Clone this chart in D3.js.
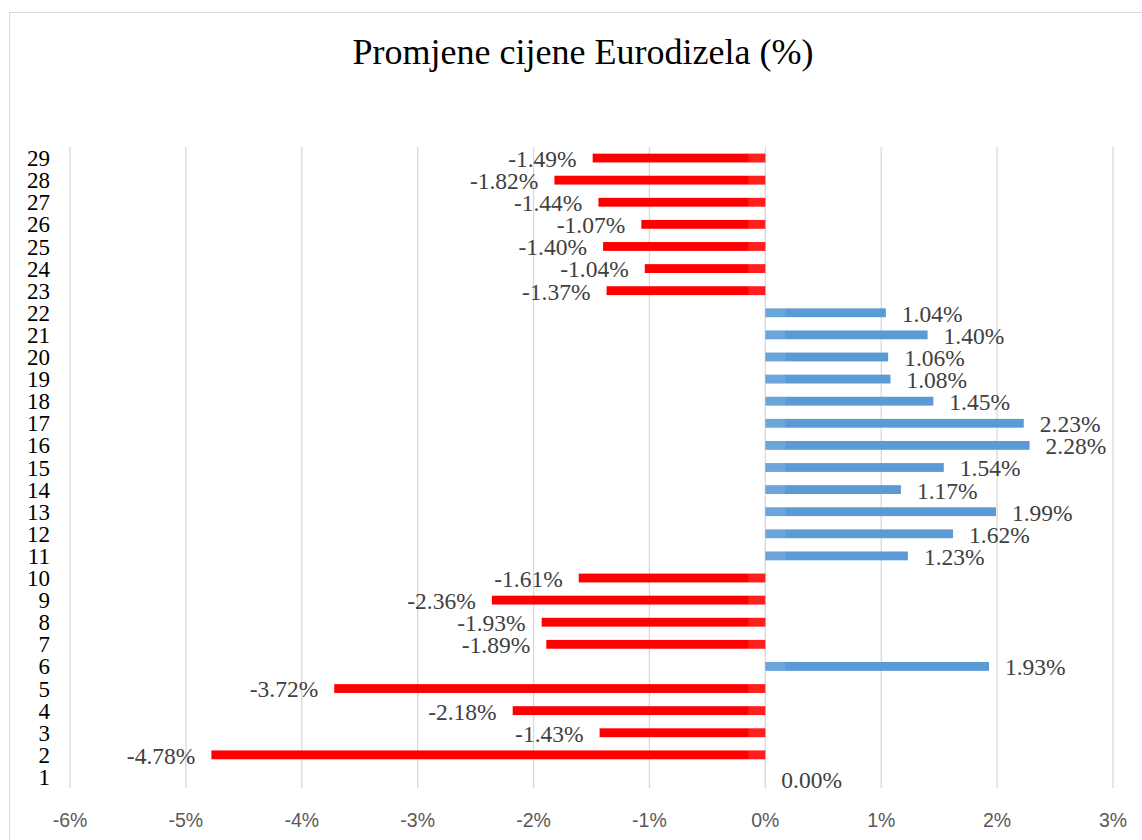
<!DOCTYPE html>
<html>
<head>
<meta charset="utf-8">
<script src="https://cdn.jsdelivr.net/npm/d3@7"></script>
<style>
  body { margin: 0; background: #fff; }
</style>
</head>
<body>
<svg width="1142" height="840"></svg>
<script>
var categories = d3.range(1, 30)
var values = [0.00, -4.78, -1.43, -2.18, -3.72, 1.93, -1.89, -1.93, -2.36, -1.61,
              1.23, 1.62, 1.99, 1.17, 1.54, 2.28, 2.23, 1.45, 1.08, 1.06,
              1.40, 1.04, -1.37, -1.04, -1.40, -1.07, -1.44, -1.82, -1.49]
var xTicks = [-6, -5, -4, -3, -2, -1, 0, 1, 2, 3]
var title = 'Promjene cijene Eurodizela (%)'

var serif = "'Liberation Serif', 'Times New Roman', serif"
var sans = "'Liberation Sans', Arial, sans-serif"

var svg = d3.select('svg')

// chart border
svg.append('rect')
    .attr('x', 9.5).attr('y', 12.5)
    .attr('width', 1150).attr('height', 850)
    .attr('fill', 'none')
    .attr('stroke', '#d9d9d9')

svg.append('text')
    .attr('x', 583).attr('y', 64)
    .attr('text-anchor', 'middle')
    .attr('font-family', serif)
    .attr('font-size', 36)
    .attr('fill', '#000')
    .text(title)

var x = d3.scaleLinear().domain([-6, 3]).range([70, 1113])
var y = d3.scaleBand().domain(categories.slice().reverse()).range([147, 788]).paddingInner(0.6).paddingOuter(0.3)

// gridlines
svg.selectAll('line.grid')
    .data(xTicks)
    .enter()
    .append('line')
    .attr('class', 'grid')
    .attr('x1', function(d){ return x(d) })
    .attr('x2', function(d){ return x(d) })
    .attr('y1', 147).attr('y2', 788)
    .style('stroke', '#d9d9d9')
    .style('stroke-width', 1.3)

// x tick labels
svg.selectAll('text.xt')
    .data(xTicks)
    .enter()
    .append('text')
    .attr('class', 'xt')
    .attr('x', function(d){ return x(d) })
    .attr('y', 827)
    .attr('text-anchor', 'middle')
    .attr('font-family', sans)
    .attr('font-size', 19.5)
    .attr('fill', '#595959')
    .text(function(d){ return d + '%' })

// y labels
svg.selectAll('text.yt')
    .data(categories)
    .enter()
    .append('text')
    .attr('class', 'yt')
    .attr('x', 50)
    .attr('y', function(d){ return y(d) + y.bandwidth() / 2 })
    .attr('dy', '0.35em')
    .attr('text-anchor', 'end')
    .attr('font-family', serif)
    .attr('font-size', 23)
    .attr('fill', '#000')
    .text(function(d){ return d })

var rows = categories.map(function(c, i){ return {c: c, v: values[i]} })

svg.selectAll('rect.bar')
    .data(rows)
    .enter()
    .append('rect')
    .attr('class', 'bar')
    .attr('x', function(d){ return Math.min(x(0), x(d.v)) })
    .attr('width', function(d){ return Math.abs(x(d.v) - x(0)) })
    .attr('y', function(d){ return y(d.c) })
    .attr('height', y.bandwidth())
    .attr('fill', function(d){ return d.v < 0 ? '#ff0000' : '#5b9bd5' })

// lighter stub near zero
svg.selectAll('rect.stub')
    .data(rows.filter(function(d){ return d.v !== 0 }))
    .enter()
    .append('rect')
    .attr('class', 'stub')
    .attr('x', function(d){ return d.v < 0 ? x(0) - 17 : x(0) })
    .attr('width', function(d){ return d.v < 0 ? 17 : 20 })
    .attr('y', function(d){ return y(d.c) })
    .attr('height', y.bandwidth())
    .attr('fill', '#fff')
    .attr('opacity', function(d){ return d.v < 0 ? 0.12 : 0.1 })

svg.selectAll('text.lbl')
    .data(rows)
    .enter()
    .append('text')
    .attr('class', 'lbl')
    .attr('x', function(d){ return d.v < 0 ? x(d.v) - 16 : x(d.v) + 16 })
    .attr('y', function(d){ return y(d.c) + y.bandwidth() / 2 + (d.v === 0 ? 2 : 0) })
    .attr('dy', '0.38em')
    .attr('text-anchor', function(d){ return d.v < 0 ? 'end' : 'start' })
    .attr('font-family', serif)
    .attr('font-size', 23.5)
    .attr('fill', '#404040')
    .text(function(d){ return d.v.toFixed(2) + '%' })
</script>
</body>
</html>
